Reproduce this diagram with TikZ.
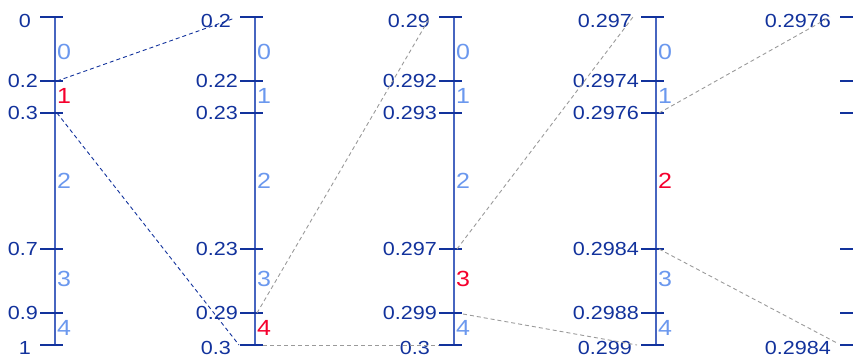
\documentclass[tikz,border=0pt]{standalone}
\usepackage{fontspec}
\setmainfont{Liberation Sans}[FakeStretch=1.14]
\definecolor{navy}{HTML}{12329C}
\definecolor{axisblue}{HTML}{4765C0}
\definecolor{lightblue}{HTML}{6B98EE}
\definecolor{hired}{HTML}{F5002D}
\definecolor{linkgray}{HTML}{9A9A9A}
\begin{document}
\begin{tikzpicture}[x=1bp,y=-1bp,
  axisline/.style={draw=axisblue,line width=1.3bp},
  tickline/.style={draw=navy,line width=1.3bp},
  ticklab/.style={text=navy,font=\fontsize{19}{19}\selectfont,inner sep=0pt,anchor=east},
  intlab/.style={font=\fontsize{22}{22}\selectfont,inner sep=0pt,anchor=west},
  navylink/.style={draw=navy,dash pattern=on 4bp off 3bp,line width=0.9bp},
  graylink/.style={draw=linkgray,dash pattern=on 4bp off 3bp,line width=0.9bp}]
\useasboundingbox (0,0) rectangle (853,358);
% four full columns
\foreach \ax/\red/\labs [count=\c] in {55/1/{0,0.2,0.3,0.7,0.9,1},
    255/4/{0.2,0.22,0.23,0.23,0.29,0.3},
    454/3/{0.29,0.292,0.293,0.297,0.299,0.3},
    656/2/{0.297,0.2974,0.2976,0.2984,0.2988,0.299}} {
  \draw[axisline] (\ax,17) -- (\ax,345);
  \foreach \v [count=\i] in \labs {
    \pgfmathsetmacro\ty{{17,81,113,249,313,345}[\i-1]}
    \pgfmathsetmacro\lx{(\i==1||\i==6)?\ax-24:\ax-17}
    \pgfmathsetmacro\ly{\i==1?21:(\i==6?348:\ty)}
    \draw[tickline] (\ax-15,\ty) -- (\ax+8,\ty);
    \node[ticklab] (t\c-\i) at (\lx,\ly) {\v};
  }
  \foreach \k/\iy in {0/52,1/96,2/181,3/279,4/328} {
    \ifnum\k=\red\relax \def\icol{hired}\else\def\icol{lightblue}\fi
    \node[intlab,text=\icol] (n\c-\k) at (\ax+2,\iy) {\k};
  }
}
% fifth column: ticks only
\foreach \ty in {17,81,113,249,313,345} {
  \draw[tickline] (840,\ty) -- (863,\ty);
}
\node[ticklab] (t5-1) at (831,21) {0.2976};
\node[ticklab] (t5-6) at (831,348) {0.2984};
% connector ends
\coordinate (a1) at (57,81);   \coordinate (b1) at (235,18);
\coordinate (a2) at (57,113);  \coordinate (b2) at (239,345);
\coordinate (a3) at (257,313); \coordinate (b3) at (429,19);
\coordinate (a4) at (263,345); \coordinate (b4) at (439,345);
\coordinate (a5) at (457,249); \coordinate (b5) at (633,17);
\coordinate (a6) at (463,314); \coordinate (b6) at (637,345);
\coordinate (a7) at (659,113); \coordinate (b7) at (830,17);
\coordinate (a8) at (659,249); \coordinate (b8) at (837,343);
\draw[navylink] (a1) -- (b1);
\draw[navylink] (a2) -- (b2);
\draw[graylink] (a3) -- (b3);
\draw[graylink] (a4) -- (b4);
\draw[graylink] (a5) -- (b5);
\draw[graylink] (a6) -- (b6);
\draw[graylink] (a7) -- (b7);
\draw[graylink] (a8) -- (b8);
\end{tikzpicture}
\end{document}
